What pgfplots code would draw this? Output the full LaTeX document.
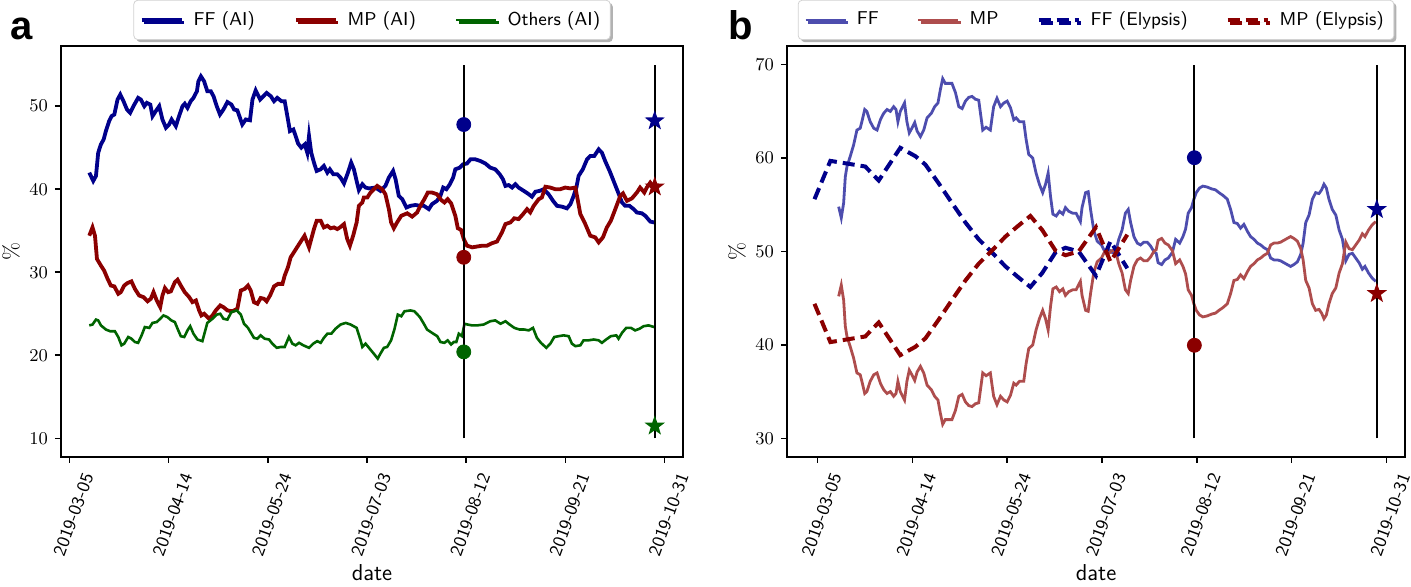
\documentclass[border=0pt]{standalone}
\usepackage{fontspec}
\usepackage{pgfplots}
\pgfplotsset{compat=1.18}
\usetikzlibrary{shadows}
\newfontfamily\labfont{Liberation Sans}

\definecolor{ffc}{RGB}{0,0,139}
\definecolor{mpc}{RGB}{139,0,0}
\definecolor{otc}{RGB}{0,100,0}
\definecolor{ffl}{RGB}{77,77,174}
\definecolor{mpl}{RGB}{174,77,77}

% filled five-point star
\pgfdeclareplotmark{fstar}{%
  \pgfpathmoveto{\pgfqpointpolar{90}{\pgfplotmarksize}}%
  \pgfpathlineto{\pgfqpointpolar{126}{0.4\pgfplotmarksize}}%
  \pgfpathlineto{\pgfqpointpolar{162}{\pgfplotmarksize}}%
  \pgfpathlineto{\pgfqpointpolar{198}{0.4\pgfplotmarksize}}%
  \pgfpathlineto{\pgfqpointpolar{234}{\pgfplotmarksize}}%
  \pgfpathlineto{\pgfqpointpolar{270}{0.4\pgfplotmarksize}}%
  \pgfpathlineto{\pgfqpointpolar{306}{\pgfplotmarksize}}%
  \pgfpathlineto{\pgfqpointpolar{342}{0.4\pgfplotmarksize}}%
  \pgfpathlineto{\pgfqpointpolar{18}{\pgfplotmarksize}}%
  \pgfpathlineto{\pgfqpointpolar{54}{0.4\pgfplotmarksize}}%
  \pgfpathclose\pgfusepathqfill}

\pgfplotsset{
  panel/.style={
    scale only axis, height=205.5pt,
    axis line style={line width=0.9pt},
    tick pos=left, tick align=outside, major tick length=3pt,
    every tick/.style={black, line width=0.8pt},
    xtick={0,40,80,120,160,200,240},
    xticklabels={2019-03-05,2019-04-14,2019-05-24,2019-07-03,2019-08-12,2019-09-21,2019-10-31},
    xticklabel style={font=\sffamily\fontsize{9}{10}\selectfont, xshift=4.3pt, rotate=70, anchor=north east},
    yticklabel style={font=\fontsize{9}{10}\selectfont},
    xlabel={\sffamily date},
    xlabel style={font=\fontsize{11.5}{13}\selectfont, at={([yshift=-62pt]axis description cs:0.5,0)}, anchor=base},
    ylabel={\%},
    ylabel style={font=\fontsize{11}{13}\selectfont, at={([xshift=-25pt]axis description cs:0,0.5)}, anchor=center},
    legend style={at={(0.5,1)}, anchor=south, yshift=3pt, draw=gray!35, fill=white,
      rounded corners=2pt, inner xsep=3pt, inner ysep=3.6pt,
      drop shadow={shadow xshift=1.3pt, shadow yshift=-1.3pt, fill=gray!60, opacity=1},
      font=\sffamily\fontsize{9.3}{10.5}\selectfont, cells={anchor=west},
      /tikz/every odd column/.append style={column sep=3pt}},
    legend image code/.code={\draw[#1] (0pt,0pt) -- (20pt,0pt);},
  },
}

\begin{document}
\begin{tikzpicture}
\path[use as bounding box] (0,0) rectangle (705.5pt,293.5pt);

\begin{axis}[panel, at={(30.5pt,65pt)}, anchor=south west, width=311pt,
  xmin=-3.4, xmax=247.4, ymin=7.75, ymax=57.25, ytick={10,20,30,40,50},
  legend columns=3,
  legend style={/tikz/every even column/.append style={column sep=17.5pt}}]
\addplot[ffc, line width=1.9pt] coordinates {
(8.0,42.0)(9.6,41.0)(10.7,41.6)(11.6,44.4)(12.7,45.4)(13.8,46.0)(14.7,47.0)(16.0,48.2)(17.0,48.8)(18.1,49.0)(19.4,50.8)(20.5,51.4)(21.8,50.6)(23.2,49.6)(24.5,49.2)(25.8,50.0)(27.7,51.0)(28.8,50.8)(30.2,50.0)(31.2,50.4)(32.6,50.2)(33.5,48.8)(34.8,49.4)(36.2,50.0)(37.5,48.4)(38.9,47.4)(40.2,47.8)(41.2,48.4)(42.9,47.6)(44.2,48.8)(45.6,50.0)(46.5,50.3)(47.6,49.8)(48.9,50.6)(50.0,51.0)(51.4,51.8)(52.0,53.0)(53.0,53.6)(54.3,53.0)(55.6,51.8)(57.0,51.8)(58.1,51.2)(59.4,50.0)(60.7,49.0)(62.1,49.6)(63.7,50.5)(65.3,50.2)(66.4,49.6)(67.7,49.5)(69.7,47.8)(71.1,48.4)(72.8,48.3)(73.8,50.8)(75.1,51.9)(76.9,50.8)(78.2,51.2)(79.5,51.6)(81.2,51.2)(82.5,50.6)(83.8,51.0)(85.5,50.6)(86.8,50.6)(88.1,48.4)(88.9,47.0)(90.3,47.2)(91.2,46.4)(92.2,45.5)(93.5,45.0)(94.9,45.4)(95.9,44.4)(96.6,46.4)(97.5,44.4)(98.6,43.2)(99.7,42.2)(101.3,42.4)(102.6,42.8)(104.0,42.0)(105.0,42.4)(106.4,41.8)(108.0,41.8)(109.3,41.4)(110.7,40.7)(112.3,42.0)(113.6,43.2)(114.7,42.4)(115.8,41.0)(116.7,39.9)(118.1,40.6)(119.4,40.2)(120.8,40.1)
(123.4,40.2)(125.4,39.8)(127.4,40.4)(128.8,41.4)(130.5,42.2)(131.5,41.2)(132.8,39.2)(134.2,38.8)(135.9,37.8)(137.5,38.0)(139.5,38.1)(141.5,38.0)(142.9,38.0)(144.9,37.6)(146.2,38.2)(148.2,38.6)(149.6,39.2)(150.7,40.2)(152.0,40.0)(153.4,40.6)(154.7,41.4)(155.6,42.4)(157.4,42.6)(158.7,43.0)(160.3,43.1)(161.7,43.6)(163.7,43.6)(165.7,43.4)(167.7,43.1)(169.7,42.6)(171.7,42.4)(173.5,41.8)(174.8,41.2)(175.8,40.4)(177.1,40.5)(178.5,40.2)(179.8,40.6)(181.1,40.2)(183.2,39.8)(185.2,39.4)(186.5,39.1)(187.9,39.7)(189.6,39.8)(191.2,40.0)(193.2,39.4)(195.0,38.6)(196.6,38.0)(198.6,37.9)(200.6,37.7)(202.0,38.2)(203.3,39.2)(204.4,40.2)(205.3,41.6)(207.0,42.4)(208.7,43.6)(210.0,44.0)(211.6,44.0)(213.4,44.8)(214.7,44.4)(216.0,43.4)(217.8,42.2)(219.4,41.0)(221.0,39.8)(222.8,38.4)(224.1,38.0)(225.8,38.0)(227.5,37.6)(228.8,37.2)(230.8,37.1)(232.2,36.8)(234.2,36.1)(235.8,36.0)};
\addlegendentry{FF (AI)}
\addplot[mpc, line width=1.9pt] coordinates {
(8.0,34.4)(9.3,35.4)(10.3,34.4)(11.1,31.6)(12.7,30.8)(14.0,30.2)(15.4,29.2)(16.7,28.4)(18.1,28.3)(19.7,27.4)(20.7,27.6)(22.1,28.4)(23.4,28.7)(25.0,28.9)(26.4,28.0)(28.1,27.2)(29.9,27.0)(31.5,26.5)(32.8,26.8)(33.9,27.6)(35.2,26.6)(36.6,25.8)(37.5,27.2)(38.5,28.1)(39.8,27.6)(40.9,27.7)(42.5,28.8)(43.6,29.1)(44.9,28.4)(46.5,27.6)(48.3,27.0)(49.6,26.4)(51.0,26.6)(52.3,25.4)(53.2,24.8)(54.3,25.0)(56.3,24.4)(57.7,24.8)(59.0,25.4)(60.8,26.0)(62.1,25.8)(63.7,25.4)(65.7,25.3)(67.7,25.6)(69.1,27.8)(70.7,28.0)(72.0,28.4)(73.1,27.8)(74.4,26.4)(75.8,26.2)(77.1,26.9)(78.5,26.8)(79.5,26.5)(80.9,27.2)(82.5,28.3)(84.1,28.6)(85.9,28.6)(86.8,29.6)(88.1,30.6)(89.2,31.8)(90.5,32.4)(92.2,33.2)(93.5,33.8)(94.8,34.4)(96.6,33.0)(97.5,34.0)(98.6,35.2)(99.7,36.2)(101.3,36.2)(102.6,35.4)(104.0,35.6)(105.3,35.3)(106.7,35.4)(108.0,35.2)(109.1,35.4)(110.7,35.8)(112.0,34.0)(113.1,33.2)(114.4,34.4)(115.8,36.0)(116.7,38.0)(118.1,38.4)(118.7,39.0)(120.1,39.0)(121.4,39.6)(124.1,40.4)(126.1,40.0)(127.4,39.4)(128.8,37.6)(129.7,36.0)(130.8,35.3)(132.1,36.0)(133.8,36.8)(136.2,37.1)(138.2,36.7)(140.2,37.2)(141.5,38.0)(143.1,38.8)(144.5,39.6)(146.2,39.6)(148.2,39.4)(149.9,38.7)(151.2,38.4)(152.5,38.8)(153.9,38.3)(155.6,36.8)(156.6,35.3)(157.9,35.1)(159.0,34.0)(160.3,33.2)(162.4,33.0)(164.4,33.1)(166.4,33.2)(168.4,33.2)(170.4,33.5)(172.4,33.7)(174.4,34.8)(175.8,35.8)(177.8,36.0)(179.4,36.5)(181.1,36.4)(182.9,37.0)(184.5,37.6)(185.8,37.2)(187.2,38.0)(189.2,38.8)(190.5,39.0)(191.9,40.3)(193.9,40.2)(195.9,40.0)(197.9,40.0)(199.9,40.2)(201.9,40.1)(204.0,40.2)(204.9,38.8)(206.0,37.0)(208.0,35.8)(210.0,34.4)(212.0,34.2)(213.4,33.6)(215.1,34.2)(216.7,35.4)(218.3,36.2)(220.1,37.6)(222.1,39.2)(223.2,39.5)(224.8,38.6)(226.8,38.9)(228.8,39.6)(230.1,40.2)(231.8,39.6)(232.8,40.2)(234.2,40.8)(235.8,40.2)};
\addlegendentry{MP (AI)}
\addplot[otc, line width=1.3pt] coordinates {
(8.0,23.6)(9.3,23.7)(10.7,24.3)(11.6,24.2)(12.7,23.6)(14.7,23.1)(16.4,22.9)(18.3,22.9)(19.7,22.2)(21.0,21.2)(22.1,21.4)(23.7,22.2)(25.0,22.0)(26.4,21.6)(27.7,21.5)(29.1,22.4)(30.4,23.4)(32.2,23.3)(33.5,23.9)(35.2,24.0)(36.6,24.4)(37.9,24.8)(39.5,24.6)(41.1,24.2)(42.5,24.0)(43.6,23.2)(44.9,22.3)(46.3,22.2)(47.6,23.0)(48.7,23.5)(50.0,22.6)(51.6,21.9)(53.6,21.7)(55.6,23.9)(57.7,24.4)(59.4,24.9)(60.8,25.0)(62.1,24.4)(63.7,24.3)(65.3,25.2)(67.5,25.4)(69.1,24.9)(70.4,23.8)(72.0,23.3)(73.4,22.6)(74.4,22.1)(75.8,22.0)(77.1,22.4)(78.7,22.0)(80.5,21.9)(81.8,21.4)(83.6,20.9)(85.2,21.0)(86.8,21.0)(88.5,22.2)(89.9,21.4)(91.2,21.2)(92.6,21.5)(94.3,21.2)(96.6,20.9)(98.3,21.4)(99.9,21.7)(101.3,21.5)(102.6,22.1)(104.0,22.6)(105.6,22.6)(107.3,23.2)(109.3,23.7)(111.4,23.9)(113.4,23.7)(115.8,23.3)(117.4,21.8)(118.1,21.0)(119.4,21.4)(122.7,20.2)(124.3,19.6)(125.4,20.2)(126.8,20.9)(128.1,21.0)(129.7,21.8)(131.1,23.2)(132.4,24.9)(133.8,24.7)(135.1,25.3)(137.5,25.4)(139.1,25.3)(141.3,24.6)(142.9,23.8)(144.2,23.1)(146.2,22.7)(148.3,22.3)(149.6,21.6)(151.2,21.5)(152.5,21.8)(153.9,21.3)(155.0,21.6)(156.0,21.6)(157.0,22.6)(158.3,22.3)(159.3,23.8)(160.6,23.7)(162.3,23.6)(164.4,23.6)(167.0,23.7)(169.7,24.1)(171.7,24.2)(173.8,23.8)(175.8,24.1)(177.5,23.7)(179.4,23.3)(181.5,23.1)(183.4,23.1)(185.2,23.0)(186.9,23.3)(188.5,22.1)(190.1,21.5)(192.3,20.9)(193.9,21.4)(195.5,22.2)(197.2,22.3)(199.3,22.4)(201.3,22.3)(202.6,21.4)(204.0,21.1)(206.0,21.2)(207.3,21.8)(209.3,21.8)(211.4,21.9)(213.4,21.8)(214.7,21.5)(216.4,21.9)(218.3,22.3)(220.5,22.4)(221.4,22.0)(222.8,22.7)(224.5,23.3)(226.4,23.3)(228.1,23.0)(229.9,23.2)(231.5,23.5)(233.5,23.6)(235.8,23.4)};
\addlegendentry{Others (AI)}
\addplot[black, line width=1pt, forget plot] coordinates {(159,10) (159,55)};
\addplot[black, line width=1pt, forget plot] coordinates {(236,10) (236,55)};
\addplot[only marks, mark=*, mark size=3.5pt, ffc, forget plot] coordinates {(159,47.79)};
\addplot[only marks, mark=*, mark size=3.5pt, mpc, forget plot] coordinates {(159,31.80)};
\addplot[only marks, mark=*, mark size=3.5pt, otc, forget plot] coordinates {(159,20.41)};
\addplot[only marks, mark=fstar, mark size=5.3pt, ffc, forget plot] coordinates {(236,48.24)};
\addplot[only marks, mark=fstar, mark size=5.3pt, mpc, forget plot] coordinates {(236,40.28)};
\addplot[only marks, mark=fstar, mark size=5.3pt, otc, forget plot] coordinates {(236,11.48)};
\end{axis}

\begin{axis}[panel, at={(393.5pt,65pt)}, anchor=south west, width=309pt,
  xmin=-12.9, xmax=247.9, ymin=28, ymax=72, ytick={30,40,50,60,70},
  legend columns=4,
  legend style={/tikz/every even column/.append style={column sep=17pt}}]
\addplot[ffl, line width=1.4pt] coordinates {
(8.9,54.8)(10.0,53.6)(11.0,55.2)(11.7,58.0)(12.4,59.1)(13.8,60.2)(15.2,61.4)(16.6,63.0)(18.0,63.2)(18.7,63.9)(19.9,65.2)(20.8,65.0)(22.2,63.9)(23.7,63.2)(25.1,63.0)(26.5,64.1)(27.9,64.8)(29.3,65.2)(30.7,65.0)(32.1,65.5)(33.1,65.2)(33.9,63.9)(34.9,65.0)(36.7,65.9)(37.7,63.9)(38.7,62.7)(39.8,63.2)(41.0,63.8)(42.0,62.9)(43.4,62.3)(44.8,63.0)(46.2,64.3)(48.0,64.8)(49.4,65.5)(50.8,65.9)(51.8,67.3)(52.8,68.5)(53.9,68.0)(55.3,68.0)(56.7,68.0)(58.2,67.0)(59.6,65.5)(61.0,65.3)(62.4,66.1)(63.8,66.5)(65.2,66.6)(66.6,66.3)(68.0,66.2)(69.7,63.0)(71.1,63.3)(72.9,63.0)(74.3,65.5)(75.7,66.4)(77.2,65.5)(78.6,65.9)(80.0,66.1)(81.4,65.4)(82.8,64.1)(83.8,64.3)(85.2,63.9)(87.0,63.9)(88.0,62.0)(89.1,60.4)(90.8,60.0)(92.2,58.4)(93.6,57.2)(95.0,56.3)(96.2,57.2)(97.3,58.4)(98.3,55.9)(99.3,54.0)(100.7,53.8)(102.1,54.3)(103.5,54.0)(104.6,54.7)(106.0,54.3)(107.7,54.1)(109.1,54.1)(110.9,53.2)
(111.6,54.7)(113.1,56.3)(114.2,56.4)(115.2,54.5)(116.6,52.2)(118.0,51.1)(119.8,50.7)(121.2,50.0)(122.9,50.2)(124.3,49.9)(125.7,49.9)(127.1,51.3)(128.5,52.3)(129.9,54.1)(131.1,54.5)(132.1,53.1)(133.5,51.6)(134.9,50.9)(136.3,50.7)(137.7,51.0)(139.1,51.0)(140.5,50.6)(141.9,50.0)(142.9,49.8)(143.7,48.8)(145.2,48.6)(146.6,49.1)(148.0,49.3)(149.7,49.9)(151.1,51.3)(152.8,50.9)(154.2,51.6)(155.3,52.4)(156.4,54.1)(157.8,54.7)(158.8,55.6)(159.8,56.3)(161.2,56.8)(162.6,57.0)(164.4,56.9)(166.3,56.7)(167.9,56.6)(169.4,56.3)(171.1,56.0)(172.9,55.6)(174.3,54.5)(175.7,53.1)(177.1,53.0)(178.5,52.5)(179.9,52.9)(181.3,52.2)(182.7,51.6)(184.2,51.3)(185.6,50.9)(187.0,50.7)(188.4,50.4)(189.8,50.2)(191.2,49.3)(192.6,49.1)(194.0,49.1)(195.4,49.0)(196.8,48.8)(198.2,48.6)(199.6,48.4)(201.0,48.6)(202.5,48.9)(203.9,49.7)(204.9,50.9)(206.0,53.1)(207.4,53.9)(208.8,55.6)(210.2,56.3)(211.6,56.2)(212.7,56.6)(213.7,57.2)(214.7,56.8)(215.8,55.6)(217.2,54.5)(218.7,53.9)(220.1,52.3)(221.5,51.3)(222.9,49.0)(224.3,49.7)(225.7,49.8)(227.1,49.3)(228.5,48.8)(229.9,48.1)(231.0,48.4)(232.5,47.7)(233.9,47.2)(235.5,46.8)};
\addlegendentry{FF}
\addplot[mpl, line width=1.4pt] coordinates {
(8.9,45.2)(10.0,46.4)(11.0,44.8)(11.7,42.0)(12.4,40.9)(13.8,39.8)(15.2,38.6)(16.6,37.0)(18.0,36.8)(18.7,36.1)(19.9,34.8)(20.8,35.0)(22.2,36.1)(23.7,36.8)(25.1,37.0)(26.5,35.9)(27.9,35.2)(29.3,34.8)(30.7,35.0)(32.1,34.5)(33.1,34.8)(33.9,36.1)(34.9,35.0)(36.7,34.1)(37.7,36.1)(38.7,37.3)(39.8,36.8)(41.0,36.2)(42.0,37.1)(43.4,37.7)(44.8,37.0)(46.2,35.7)(48.0,35.2)(49.4,34.5)(50.8,34.1)(51.8,32.7)(52.8,31.5)(53.9,32.0)(55.3,32.0)(56.7,32.0)(58.2,33.0)(59.6,34.5)(61.0,34.7)(62.4,33.9)(63.8,33.5)(65.2,33.4)(66.6,33.7)(68.0,33.8)(69.7,37.0)(71.1,36.7)(72.9,37.0)(74.3,34.5)(75.7,33.6)(77.2,34.5)(78.6,34.1)(80.0,33.9)(81.4,34.6)(82.8,35.9)(83.8,35.7)(85.2,36.1)(87.0,36.1)(88.0,38.0)(89.1,39.6)(90.8,40.0)(92.2,41.6)(93.6,42.8)(95.0,43.7)(96.2,42.8)(97.3,41.6)(98.3,44.1)(99.3,46.0)(100.7,46.2)(102.1,45.7)(103.5,46.0)(104.6,45.3)(106.0,45.7)(107.7,45.9)(109.1,45.9)(110.9,46.8)(111.6,45.3)(113.1,43.7)(114.2,43.6)(115.2,45.5)(116.6,47.8)(118.0,48.9)(119.8,49.3)(121.2,50.0)(122.9,49.8)(124.3,50.1)(125.7,50.1)(127.1,48.7)(128.5,47.7)(129.9,45.9)(131.1,45.5)(132.1,46.9)(133.5,48.4)(134.9,49.1)(136.3,49.3)(137.7,49.0)(139.1,49.0)(140.5,49.4)(141.9,50.0)(142.9,50.2)(143.7,51.2)(145.2,51.4)(146.6,50.9)(148.0,50.7)(149.7,50.1)(151.1,48.7)(152.8,49.1)(154.2,48.4)(155.3,47.6)(156.4,45.9)(157.8,45.3)(158.8,44.4)(159.8,43.7)(161.2,43.2)(162.6,43.0)(164.4,43.1)(166.3,43.3)(167.9,43.4)(169.4,43.7)(171.1,44.0)(172.9,44.4)(174.3,45.5)(175.7,46.9)(177.1,47.0)(178.5,47.5)(179.9,47.1)(181.3,47.8)(182.7,48.4)(184.2,48.7)(185.6,49.1)(187.0,49.3)(188.4,49.6)(189.8,49.8)(191.2,50.7)(192.6,50.9)(194.0,50.9)(195.4,51.0)(196.8,51.2)(198.2,51.4)(199.6,51.6)(201.0,51.4)(202.5,51.1)(203.9,50.3)(204.9,49.1)(206.0,46.9)(207.4,46.1)(208.8,44.4)(210.2,43.7)(211.6,43.8)(212.7,43.4)(213.7,42.8)(214.7,43.2)(215.8,44.4)(217.2,45.5)(218.7,46.1)(220.1,47.7)(221.5,48.7)(222.9,51.0)(224.3,50.3)(225.7,50.2)(227.1,50.7)(228.5,51.2)(229.9,51.9)(231.0,51.6)(232.5,52.3)(233.9,52.8)(235.5,53.2)};
\addlegendentry{MP}
\addplot[ffc, line width=2pt, dash pattern=on 6pt off 3pt] coordinates {
(-1.3,55.6)(5.4,59.7)(20.1,59.1)(25.8,57.6)(34.9,61.1)(41.3,60.2)(45.5,59.3)(51.1,57.3)(56.7,55.2)(62.4,53.1)(68.0,51.3)(73.6,49.9)(79.3,48.4)(84.9,47.2)(89.8,46.2)(94.8,47.7)(100.4,49.9)(104.6,50.4)(110.2,50.0)(117.5,47.4)(123.6,51.1)(130.7,48.2)};
\addlegendentry{FF (Elypsis)}
\addplot[mpc, line width=2pt, dash pattern=on 6pt off 3pt] coordinates {
(-1.3,44.4)(5.4,40.3)(20.1,40.9)(25.8,42.4)(34.9,38.9)(41.3,39.8)(45.5,40.7)(51.1,42.7)(56.7,44.8)(62.4,46.9)(68.0,48.7)(73.6,50.1)(79.3,51.6)(84.9,52.8)(89.8,53.8)(94.8,52.3)(100.4,50.1)(104.6,49.6)(110.2,50.0)(117.5,52.6)(123.6,48.9)(130.7,51.8)};
\addlegendentry{MP (Elypsis)}
\addplot[black, line width=1pt, forget plot] coordinates {(159,30) (159,70)};
\addplot[black, line width=1pt, forget plot] coordinates {(236,30) (236,70)};
\addplot[only marks, mark=*, mark size=3.5pt, ffc, forget plot] coordinates {(159,60.04)};
\addplot[only marks, mark=*, mark size=3.5pt, mpc, forget plot] coordinates {(159,39.96)};
\addplot[only marks, mark=fstar, mark size=5.3pt, ffc, forget plot] coordinates {(236,54.50)};
\addplot[only marks, mark=fstar, mark size=5.3pt, mpc, forget plot] coordinates {(236,45.50)};
\end{axis}

\node[anchor=base west, inner sep=0pt, font=\labfont\bfseries\fontsize{20}{24}\selectfont] at (5pt,273.5pt) {a};
\node[anchor=base west, inner sep=0pt, font=\labfont\bfseries\fontsize{20}{24}\selectfont] at (364pt,273.5pt) {b};
\end{tikzpicture}
\end{document}
